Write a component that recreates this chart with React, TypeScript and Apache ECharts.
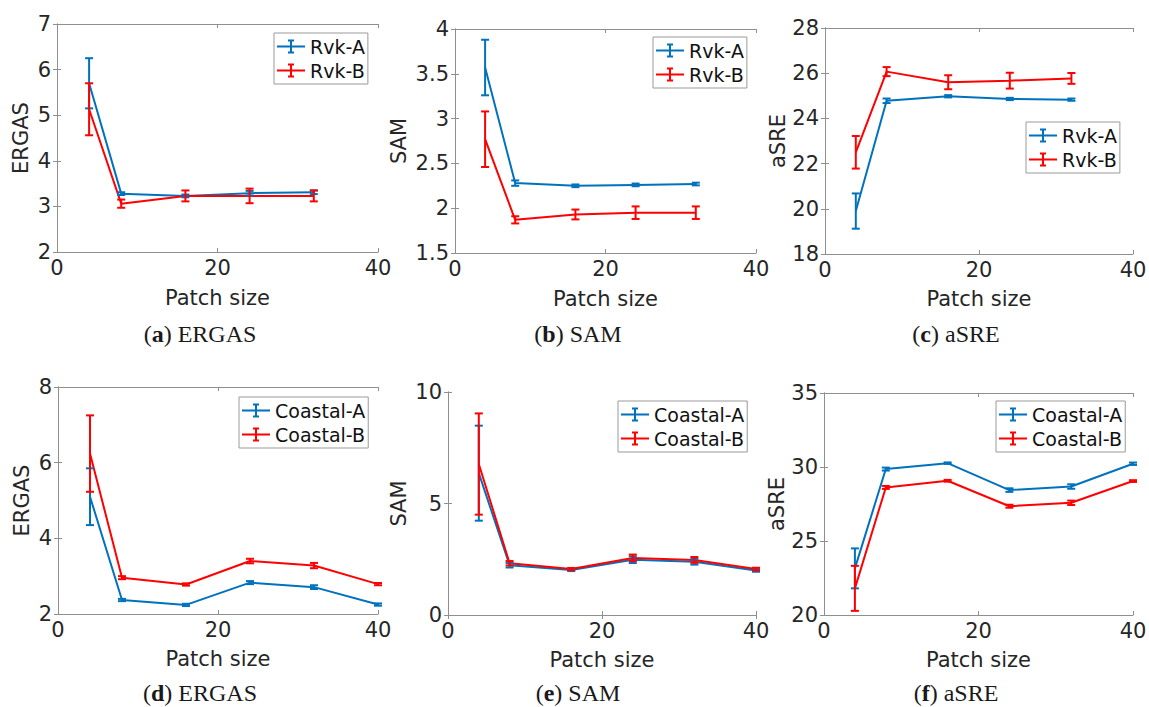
import React, { useEffect, useRef } from 'react';
import * as echarts from 'echarts';

// ---------- data ----------
const rvkPatch = [4, 8, 16, 24, 32];
const coastalPatch = [4, 8, 16, 24, 32, 40];

const rvkErgasA = [5.7, 3.28, 3.23, 3.29, 3.31];
const rvkErgasAErr = [0.55, 0.03, 0.03, 0.05, 0.04];
const rvkErgasB = [5.13, 3.06, 3.23, 3.23, 3.23];
const rvkErgasBErr = [0.57, 0.09, 0.12, 0.16, 0.12];

const rvkSamA = [3.57, 2.28, 2.25, 2.26, 2.27];
const rvkSamAErr = [0.31, 0.03, 0.015, 0.015, 0.015];
const rvkSamB = [2.77, 1.87, 1.93, 1.95, 1.95];
const rvkSamBErr = [0.31, 0.04, 0.055, 0.07, 0.07];

const rvkAsreA = [19.9, 24.78, 24.98, 24.86, 24.83];
const rvkAsreAErr = [0.78, 0.1, 0.05, 0.05, 0.05];
const rvkAsreB = [22.5, 26.07, 25.6, 25.67, 25.77];
const rvkAsreBErr = [0.72, 0.2, 0.31, 0.35, 0.24];

const coastalErgasA = [5.1, 2.37, 2.24, 2.83, 2.71, 2.25];
const coastalErgasAErr = [0.75, 0.03, 0.03, 0.04, 0.05, 0.03];
const coastalErgasB = [6.24, 2.96, 2.78, 3.4, 3.28, 2.79];
const coastalErgasBErr = [1.01, 0.04, 0.03, 0.06, 0.07, 0.03];

const coastalSamA = [6.36, 2.23, 2.02, 2.48, 2.39, 2.0];
const coastalSamAErr = [2.13, 0.1, 0.05, 0.15, 0.13, 0.06];
const coastalSamB = [6.77, 2.32, 2.06, 2.56, 2.47, 2.06];
const coastalSamBErr = [2.27, 0.1, 0.05, 0.15, 0.13, 0.06];

const coastalAsreA = [23.15, 29.86, 30.26, 28.44, 28.68, 30.22];
const coastalAsreAErr = [1.35, 0.1, 0.05, 0.12, 0.15, 0.08];
const coastalAsreB = [21.8, 28.62, 29.07, 27.35, 27.58, 29.05];
const coastalAsreBErr = [1.52, 0.1, 0.06, 0.1, 0.15, 0.06];

const rvkNames = ['Rvk-A', 'Rvk-B'];
const coastalNames = ['Coastal-A', 'Coastal-B'];
const xTicks = { min: 0, max: 40, interval: 20 };
const xLabel = 'Patch size';

// ---------- styling ----------
const BLUE = '#0072BD';
const RED = '#FF0000';
const AXIS = '#8f8f8f';
const TEXT = '#262626';
const SANS = 'DejaVu Sans';
const SERIF = 'Liberation Serif';
const legendIcon =
  'path://M0,6h28v2h-28z M13,0h2v14h-2z M11,0h6v2h-6z M11,12h6v2h-6z';

const panels = [
  {
    letter: 'a', metric: 'ERGAS', x: rvkPatch, names: rvkNames,
    A: rvkErgasA, AErr: rvkErgasAErr, B: rvkErgasB, BErr: rvkErgasBErr,
    y: { min: 2, max: 7, interval: 1 },
    grid: { left: 57, top: 24, width: 321, height: 228 },
    yGap: 26, xGap: 35, legend: { left: 274, top: 33 }, cap: { x: 200, y: 334 },
  },
  {
    letter: 'b', metric: 'SAM', x: rvkPatch, names: rvkNames,
    A: rvkSamA, AErr: rvkSamAErr, B: rvkSamB, BErr: rvkSamBErr,
    y: { min: 1.5, max: 4, interval: 0.5 },
    grid: { left: 455, top: 29, width: 301, height: 224 },
    yGap: 46, xGap: 35, legend: { left: 653, top: 37 }, cap: { x: 578, y: 334 },
  },
  {
    letter: 'c', metric: 'aSRE', x: rvkPatch, names: rvkNames,
    A: rvkAsreA, AErr: rvkAsreAErr, B: rvkAsreB, BErr: rvkAsreBErr,
    y: { min: 18, max: 28, interval: 2 },
    grid: { left: 825, top: 28, width: 308, height: 226 },
    yGap: 37, xGap: 34, legend: { left: 1026, top: 122 }, cap: { x: 956, y: 334 },
  },
  {
    letter: 'd', metric: 'ERGAS', x: coastalPatch, names: coastalNames,
    A: coastalErgasA, AErr: coastalErgasAErr, B: coastalErgasB, BErr: coastalErgasBErr,
    y: { min: 2, max: 8, interval: 2 },
    grid: { left: 58, top: 387, width: 320, height: 227 },
    yGap: 26, xGap: 34, legend: { left: 239, top: 397 }, cap: { x: 200, y: 693 },
  },
  {
    letter: 'e', metric: 'SAM', x: coastalPatch, names: coastalNames,
    A: coastalSamA, AErr: coastalSamAErr, B: coastalSamB, BErr: coastalSamBErr,
    y: { min: 0, max: 10, interval: 5 },
    grid: { left: 448, top: 392, width: 308, height: 223 },
    yGap: 39, xGap: 34, legend: { left: 618, top: 401 }, cap: { x: 578, y: 693 },
  },
  {
    letter: 'f', metric: 'aSRE', x: coastalPatch, names: coastalNames,
    A: coastalAsreA, AErr: coastalAsreAErr, B: coastalAsreB, BErr: coastalAsreBErr,
    y: { min: 20, max: 35, interval: 5 },
    grid: { left: 824, top: 393, width: 309, height: 222 },
    yGap: 36, xGap: 34, legend: { left: 996, top: 401 }, cap: { x: 956, y: 693 },
  },
];

function errorBarSeries(name: string, color: string, idx: number, x: number[], m: number[], e: number[]) {
  return {
    type: 'custom',
    name,
    xAxisIndex: idx * 2,
    yAxisIndex: idx * 2,
    z: 3,
    encode: { x: 0, y: [1, 2] },
    data: x.map((v, j) => [v, m[j] - e[j], m[j] + e[j]]),
    renderItem: (params: any, api: any) => {
      const xv = api.value(0);
      const lo = api.coord([xv, api.value(1)]);
      const hi = api.coord([xv, api.value(2)]);
      const w = 4;
      const style = { stroke: color, lineWidth: 2 };
      return {
        type: 'group',
        children: [
          { type: 'line', shape: { x1: lo[0], y1: lo[1], x2: hi[0], y2: hi[1] }, style },
          { type: 'line', shape: { x1: lo[0] - w, y1: lo[1], x2: lo[0] + w, y2: lo[1] }, style },
          { type: 'line', shape: { x1: hi[0] - w, y1: hi[1], x2: hi[0] + w, y2: hi[1] }, style },
        ],
      };
    },
  };
}

function lineSeries(name: string, color: string, idx: number, x: number[], m: number[]) {
  return {
    type: 'line',
    name,
    xAxisIndex: idx * 2,
    yAxisIndex: idx * 2,
    z: 2,
    color,
    symbol: 'none',
    showSymbol: false,
    lineStyle: { color, width: 2 },
    itemStyle: { color },
    data: x.map((v, j) => [v, m[j]]),
  };
}

function buildOption() {
  const grids: any[] = [];
  const xAxes: any[] = [];
  const yAxes: any[] = [];
  const series: any[] = [];
  const legends: any[] = [];
  const graphics: any[] = [];

  const axisLine = { show: true, lineStyle: { color: AXIS, width: 1 } };
  const tick = { show: true, inside: true, length: 4, lineStyle: { color: AXIS, width: 1 } };
  const label = { color: TEXT, fontFamily: SANS, fontSize: 21 };

  panels.forEach((p, i) => {
    grids.push({ ...p.grid, show: false, containLabel: false, outerBoundsMode: 'none' });
    xAxes.push({
      type: 'value', gridIndex: i, position: 'bottom', ...xTicks,
      name: xLabel, nameLocation: 'middle', nameGap: p.xGap,
      nameTextStyle: { color: TEXT, fontFamily: SANS, fontSize: 21 },
      axisLine, axisTick: tick, splitLine: { show: false },
      axisLabel: { ...label, margin: 5 },
    });
    xAxes.push({
      type: 'value', gridIndex: i, position: 'top', ...xTicks,
      axisLine, axisTick: tick, splitLine: { show: false }, axisLabel: { show: false },
    });
    yAxes.push({
      type: 'value', gridIndex: i, position: 'left', ...p.y,
      name: p.metric, nameLocation: 'middle', nameGap: p.yGap,
      nameTextStyle: { color: TEXT, fontFamily: SANS, fontSize: 21 },
      axisLine, axisTick: tick, splitLine: { show: false },
      axisLabel: { ...label, margin: 6 },
    });
    yAxes.push({
      type: 'value', gridIndex: i, position: 'right', ...p.y,
      axisLine, axisTick: tick, splitLine: { show: false }, axisLabel: { show: false },
    });

    series.push(lineSeries(p.names[0], BLUE, i, p.x, p.A));
    series.push(errorBarSeries(p.names[0] + ' error', BLUE, i, p.x, p.A, p.AErr));
    series.push(lineSeries(p.names[1], RED, i, p.x, p.B));
    series.push(errorBarSeries(p.names[1] + ' error', RED, i, p.x, p.B, p.BErr));

    legends.push({
      show: true, orient: 'vertical', left: p.legend.left, top: p.legend.top,
      padding: [2, 3, 2, 3], itemGap: 1, itemWidth: 28, itemHeight: 14,
      icon: legendIcon, data: p.names, selectedMode: false,
      backgroundColor: '#ffffff', borderColor: '#9a9a9a', borderWidth: 1, borderRadius: 0,
      itemStyle: { borderWidth: 0 },
      textStyle: { fontFamily: SANS, fontSize: 19, color: '#111', lineHeight: 23 },
    });

    graphics.push({
      type: 'text', x: p.cap.x, y: p.cap.y,
      style: {
        text: '({b|' + p.letter + '}) ' + p.metric,
        fill: '#1a1a1a', fontFamily: SERIF, fontSize: 24,
        align: 'center', verticalAlign: 'middle',
        rich: { b: { fontFamily: SERIF, fontSize: 24, fontWeight: 'bold', fill: '#1a1a1a' } },
      },
    });
  });

  return {
    animation: false,
    backgroundColor: '#ffffff',
    grid: grids,
    xAxis: xAxes,
    yAxis: yAxes,
    legend: legends,
    series,
    graphic: graphics,
  };
}

export default function App() {
  const ref = useRef<HTMLDivElement>(null);
  useEffect(() => {
    if (!ref.current) return;
    const chart = echarts.init(ref.current, undefined, { renderer: 'svg' });
    chart.setOption(buildOption() as any);
    return () => chart.dispose();
  }, []);
  return (
    <div
      ref={ref}
      style={{ position: 'absolute', left: 0, top: 0, width: 1149, height: 707, background: '#fff' }}
    />
  );
}
